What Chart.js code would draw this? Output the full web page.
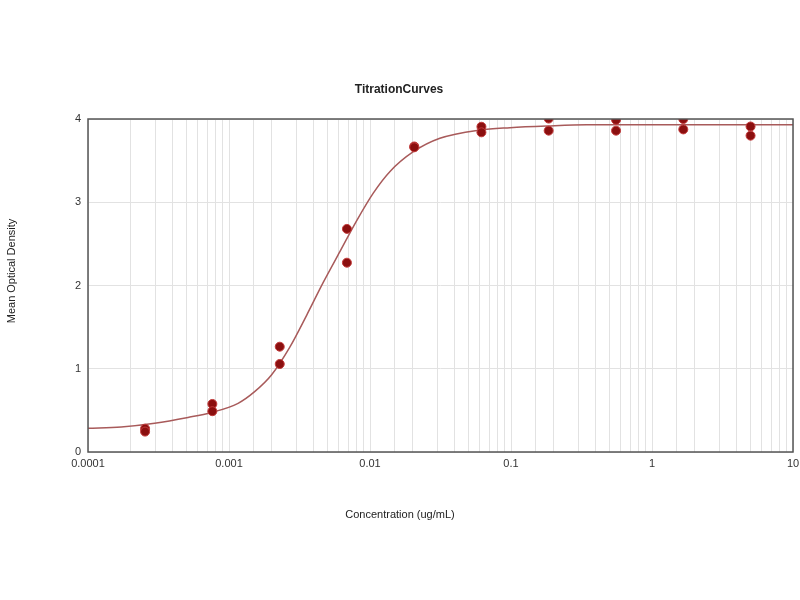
<!DOCTYPE html>
<html lang="en">
<head>
    <meta charset="UTF-8">
    <title>TitrationCurves</title>
    <script src="https://cdn.jsdelivr.net/npm/chart.js"></script>
    <style>
        html, body { margin: 0; padding: 0; background: #fff; }
        #wrap { width: 800px; height: 600px; }
    </style>
</head>
<body>
    <div id="wrap"><canvas id="myChart" width="800" height="600"></canvas></div>
    <script>
        // measured replicates, 3-fold dilution series
        const concentrations = [0.000254, 0.000762, 0.00229, 0.00686, 0.0206, 0.0617, 0.185, 0.556, 1.667, 5];
        const replicate1 = [0.28, 0.577, 1.265, 2.68, 3.67, 3.907, 4.005, 3.99, 4.0, 3.91];
        const replicate2 = [0.245, 0.49, 1.057, 2.274, 3.66, 3.84, 3.86, 3.86, 3.875, 3.80];

        // fitted curve
        const curveX = [0.0001, 0.000172, 0.000297, 0.000512, 0.00075, 0.00116, 0.00152, 0.002, 0.0027, 0.00356, 0.00467, 0.00613, 0.00805, 0.01055, 0.01387, 0.0203, 0.0313, 0.0603, 0.0984, 0.179, 0.344, 1, 10];
        const curveY = [0.285, 0.30, 0.345, 0.415, 0.475, 0.585, 0.725, 0.925, 1.26, 1.645, 2.04, 2.41, 2.78, 3.11, 3.37, 3.607, 3.768, 3.868, 3.896, 3.916, 3.93, 3.93, 3.93];

        const xTickValues = [0.0001, 0.001, 0.01, 0.1, 1, 10];
        const xTickLabels = ['0.0001', '0.001', '0.01', '0.1', '1', '10'];

        const chartTitle = 'TitrationCurves';
        const xTitle = 'Concentration (ug/mL)';
        const yTitle = 'Mean Optical Density';

        const points = [];
        concentrations.forEach((c, i) => {
            points.push({x: c, y: replicate1[i]});
            points.push({x: c, y: replicate2[i]});
        });
        const curve = curveX.map((x, i) => ({x: x, y: curveY[i]}));

        const textPlugin = {
            id: 'textPlugin',
            afterDraw(chart) {
                const ctx = chart.ctx;
                const a = chart.chartArea;
                ctx.save();
                ctx.strokeStyle = '#555';
                ctx.lineWidth = 1.5;
                ctx.strokeRect(a.left, a.top, a.right - a.left, a.bottom - a.top);
                ctx.fillStyle = '#222';
                ctx.textAlign = 'center';
                ctx.textBaseline = 'middle';
                ctx.font = 'bold 12px "Liberation Sans", Arial, sans-serif';
                ctx.fillText(chartTitle, 399, 90);
                ctx.font = '11px "Liberation Sans", Arial, sans-serif';
                ctx.fillText(xTitle, 400, 515);
                ctx.translate(12, 271);
                ctx.rotate(-Math.PI / 2);
                ctx.fillText(yTitle, 0, 0);
                ctx.restore();
            }
        };

        const ctx = document.getElementById('myChart').getContext('2d');
        new Chart(ctx, {
            type: 'scatter',
            data: {
                datasets: [{
                    label: 'Replicates',
                    data: points,
                    backgroundColor: '#8b0f0f',
                    borderColor: '#c23a3a',
                    borderWidth: 1,
                    pointRadius: 4.5,
                    pointHoverRadius: 4.5
                }, {
                    label: 'Fit',
                    data: curve,
                    showLine: true,
                    borderColor: '#a85a5a',
                    borderWidth: 1.5,
                    pointRadius: 0,
                    cubicInterpolationMode: 'monotone'
                }]
            },
            options: {
                responsive: false,
                animation: false,
                layout: { padding: { top: 119, right: 7, left: 0, bottom: 0 } },
                plugins: {
                    legend: { display: false },
                    title: { display: false },
                    tooltip: { enabled: false }
                },
                scales: {
                    x: {
                        type: 'logarithmic',
                        min: 0.0001,
                        max: 10,
                        border: { display: false },
                        grid: { color: '#e2e2e2', lineWidth: 1, drawTicks: false },
                        ticks: {
                            autoSkip: false,
                            maxRotation: 0,
                            padding: 5,
                            color: '#333',
                            font: { family: '"Liberation Sans", Arial, sans-serif', size: 11 },
                            callback: function(value) {
                                const i = xTickValues.findIndex(v => Math.abs(v - value) / v < 1e-6);
                                return i >= 0 ? xTickLabels[i] : '';
                            }
                        },
                        afterFit: function(scale) {
                            scale.height = 148;
                            scale.paddingLeft = 0;
                            scale.paddingRight = 0;
                        }
                    },
                    y: {
                        min: 0,
                        max: 4,
                        border: { display: false },
                        grid: { color: '#e2e2e2', lineWidth: 1, drawTicks: false },
                        ticks: {
                            stepSize: 1,
                            padding: 7,
                            color: '#333',
                            font: { family: '"Liberation Sans", Arial, sans-serif', size: 11 }
                        },
                        afterFit: function(scale) { scale.width = 88; }
                    }
                }
            },
            plugins: [textPlugin]
        });
    </script>
</body>
</html>
